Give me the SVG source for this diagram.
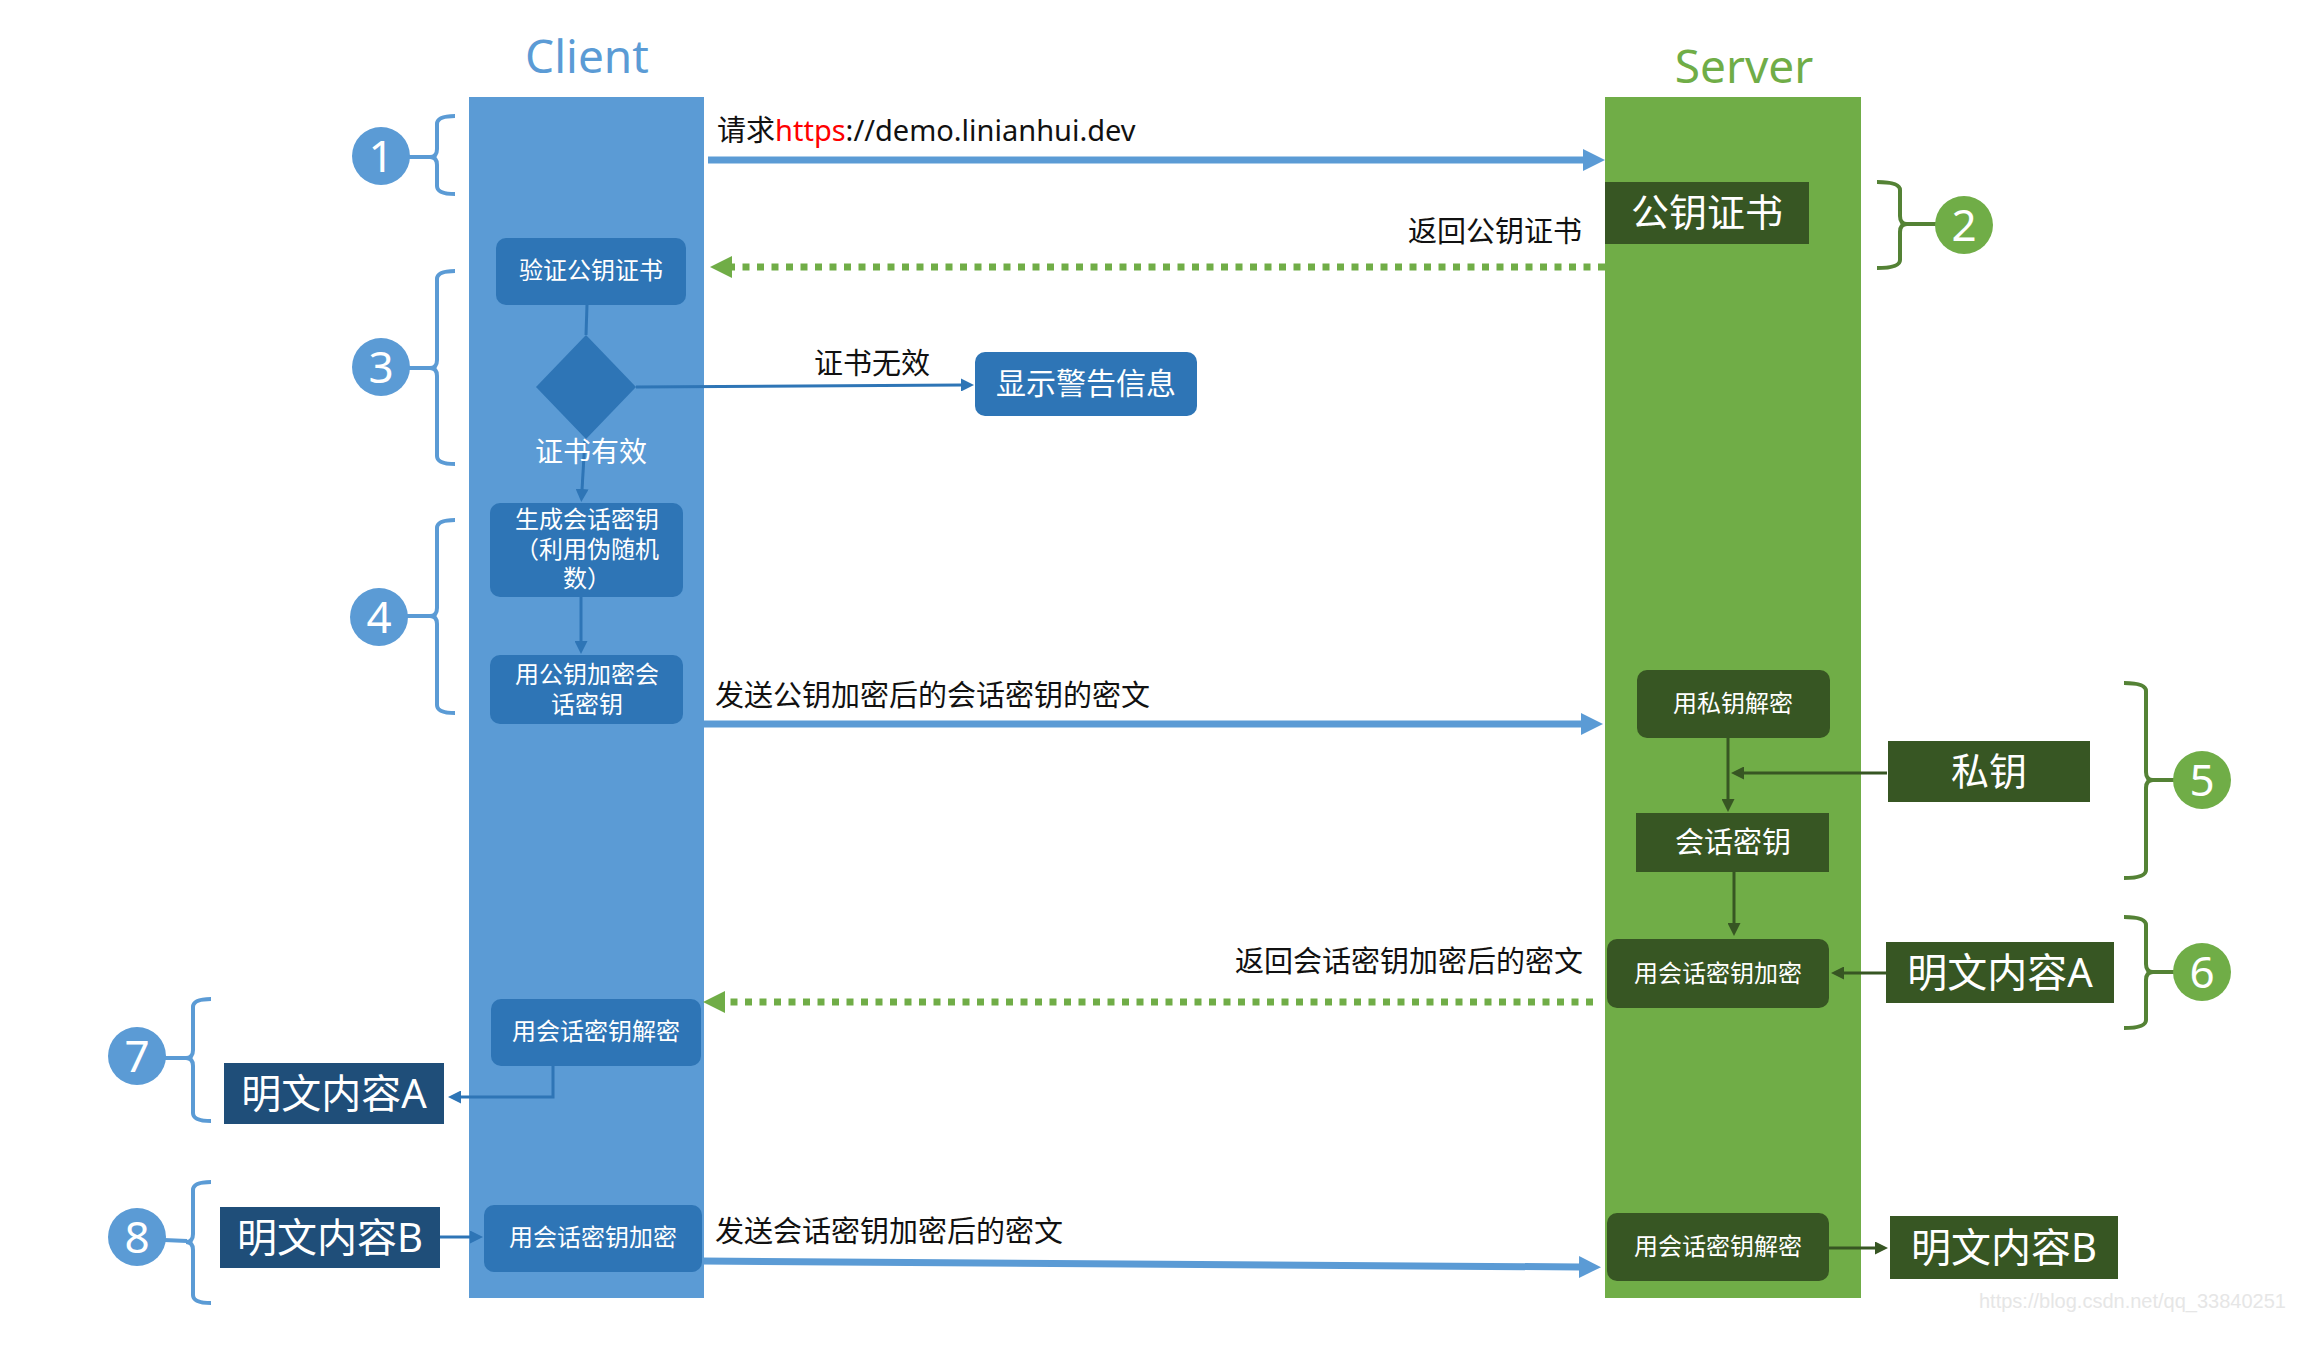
<svg xmlns="http://www.w3.org/2000/svg" width="2300" height="1354" viewBox="0 0 2300 1354">
<style>
text{font-family:"Noto Sans","Noto Sans CJK SC",sans-serif}
.lbl{font-size:29px;fill:#111}
.wt{fill:#fff;text-anchor:middle}
.s24{font-size:24px}
.big{font-size:40px}
.bbox{fill:#2E75B6}
.gbox{fill:#375623}
.dbox{fill:#1F4E79}
.num{font-size:44px;fill:#fff;text-anchor:middle}
.brB{fill:none;stroke:#5B9BD5;stroke-width:4}
.brG{fill:none;stroke:#548235;stroke-width:4}
.thickB{stroke:#5B9BD5;stroke-width:7;fill:none}
.dotG{stroke:#70AD47;stroke-width:7;stroke-dasharray:7 7.5;fill:none}
.thinB{stroke:#2E75B6;stroke-width:3;fill:none}
.thinG{stroke:#375623;stroke-width:3;fill:none}
</style>
<defs>
<marker id="aB" markerUnits="userSpaceOnUse" markerWidth="22" markerHeight="22" viewBox="0 0 22 22" refX="1" refY="11" orient="auto"><path d="M0,0 L22,11 L0,22 z" fill="#5B9BD5"/></marker>
<marker id="aG" markerUnits="userSpaceOnUse" markerWidth="22" markerHeight="22" viewBox="0 0 22 22" refX="1" refY="11" orient="auto"><path d="M0,0 L22,11 L0,22 z" fill="#70AD47"/></marker>
<marker id="sB" markerUnits="userSpaceOnUse" markerWidth="13" markerHeight="13" viewBox="0 0 13 13" refX="1" refY="6.5" orient="auto"><path d="M0,0 L13,6.5 L0,13 z" fill="#2E75B6"/></marker>
<marker id="sG" markerUnits="userSpaceOnUse" markerWidth="13" markerHeight="13" viewBox="0 0 13 13" refX="1" refY="6.5" orient="auto"><path d="M0,0 L13,6.5 L0,13 z" fill="#375623"/></marker>
</defs>
<rect width="2300" height="1354" fill="#fff"/>

<g id="client-lane">
<rect x="469" y="97" width="235" height="1201" fill="#5B9BD5"/>
<text x="587" y="73" font-size="46" fill="#5B9BD5" text-anchor="middle">Client</text>
</g>
<g id="server-lane">
<rect x="1605" y="97" width="256" height="1201" fill="#70AD47"/>
<text x="1744" y="83" font-size="46" fill="#70AD47" text-anchor="middle">Server</text>
</g>

<g id="connectors">
<line class="thickB" x1="708" y1="160" x2="1584" y2="160" marker-end="url(#aB)"/>
<line class="dotG" x1="1605" y1="267" x2="731" y2="267" marker-end="url(#aG)"/>
<line class="thinB" x1="587" y1="305" x2="586" y2="335"/>
<line class="thinB" x1="636" y1="387" x2="962" y2="385" marker-end="url(#sB)"/>
<line class="thinB" x1="585" y1="439" x2="582" y2="490" marker-end="url(#sB)"/>
<line class="thinB" x1="581" y1="597" x2="581" y2="642" marker-end="url(#sB)"/>
<line class="thickB" x1="704" y1="724" x2="1582" y2="724" marker-end="url(#aB)"/>
<line class="thinG" x1="1728" y1="738" x2="1728" y2="800" marker-end="url(#sG)"/>
<line class="thinG" x1="1887" y1="773" x2="1743" y2="773" marker-end="url(#sG)"/>
<line class="thinG" x1="1734" y1="872" x2="1734" y2="924" marker-end="url(#sG)"/>
<line class="thinG" x1="1886" y1="973" x2="1843" y2="973" marker-end="url(#sG)"/>
<line class="dotG" x1="1593" y1="1002" x2="724" y2="1002" marker-end="url(#aG)"/>
<polyline class="thinB" stroke-width="4" points="553,1066 553,1097 460,1097" marker-end="url(#sB)"/>
<line class="thinB" x1="440" y1="1237" x2="471" y2="1237" marker-end="url(#sB)"/>
<line class="thickB" x1="702" y1="1261" x2="1580" y2="1267" marker-end="url(#aB)"/>
<line class="thinG" x1="1829" y1="1248" x2="1876" y2="1248" marker-end="url(#sG)"/>
</g>

<g id="labels">
<text class="lbl" x="717" y="141">请求<tspan fill="#FF0000">https</tspan>://demo.linianhui.dev</text>
<text class="lbl" x="1582" y="242" text-anchor="end">返回公钥证书</text>
<text class="lbl" x="814" y="374" font-size="28">证书无效</text>
<text class="lbl" x="715" y="706">发送公钥加密后的会话密钥的密文</text>
<text class="lbl" x="1583" y="972" text-anchor="end">返回会话密钥加密后的密文</text>
<text class="lbl" x="715" y="1242">发送会话密钥加密后的密文</text>
</g>

<g id="verify-cert">
<rect class="bbox" x="496" y="238" width="190" height="67" rx="10"/>
<text class="wt s24" x="591" y="279">验证公钥证书</text>
</g>
<g id="cert-check">
<polygon class="bbox" points="586,335 636,387 586,439 536,387"/>
<text class="wt" x="591" y="462" font-size="28">证书有效</text>
</g>
<g id="show-warning">
<rect class="bbox" x="975" y="352" width="222" height="64" rx="10"/>
<text class="wt" x="1086" y="394" font-size="30">显示警告信息</text>
</g>
<g id="gen-session-key">
<rect class="bbox" x="490" y="503" width="193" height="94" rx="10"/>
<text class="wt s24" x="587" y="528">生成会话密钥<tspan x="587" dy="30">（利用伪随机</tspan><tspan x="587" dy="29">数）</tspan></text>
</g>
<g id="encrypt-session-key">
<rect class="bbox" x="490" y="655" width="193" height="69" rx="10"/>
<text class="wt s24" x="587" y="683">用公钥加密会<tspan x="587" dy="30">话密钥</tspan></text>
</g>
<g id="client-decrypt">
<rect class="bbox" x="491" y="999" width="210" height="67" rx="10"/>
<text class="wt s24" x="596" y="1040">用会话密钥解密</text>
</g>
<g id="client-plain-a">
<rect class="dbox" x="224" y="1063" width="220" height="61"/>
<text class="wt big" x="334" y="1108">明文内容A</text>
</g>
<g id="client-plain-b">
<rect class="dbox" x="220" y="1207" width="220" height="61"/>
<text class="wt big" x="330" y="1252">明文内容B</text>
</g>
<g id="client-encrypt">
<rect class="bbox" x="484" y="1205" width="218" height="67" rx="10"/>
<text class="wt s24" x="593" y="1246">用会话密钥加密</text>
</g>

<g id="server-cert">
<rect class="gbox" x="1605" y="182" width="204" height="62"/>
<text class="wt" x="1707" y="226" font-size="38">公钥证书</text>
</g>
<g id="server-private-decrypt">
<rect class="gbox" x="1637" y="670" width="193" height="68" rx="10"/>
<text class="wt s24" x="1733" y="712">用私钥解密</text>
</g>
<g id="private-key">
<rect class="gbox" x="1888" y="741" width="202" height="61"/>
<text class="wt" x="1989" y="785" font-size="38">私钥</text>
</g>
<g id="session-key">
<rect class="gbox" x="1636" y="813" width="193" height="59"/>
<text class="wt" x="1733" y="853" font-size="29">会话密钥</text>
</g>
<g id="server-encrypt">
<rect class="gbox" x="1607" y="939" width="222" height="69" rx="10"/>
<text class="wt s24" x="1718" y="982">用会话密钥加密</text>
</g>
<g id="server-plain-a">
<rect class="gbox" x="1886" y="942" width="228" height="61"/>
<text class="wt big" x="2000" y="987">明文内容A</text>
</g>
<g id="server-decrypt">
<rect class="gbox" x="1607" y="1213" width="222" height="68" rx="10"/>
<text class="wt s24" x="1718" y="1255">用会话密钥解密</text>
</g>
<g id="server-plain-b">
<rect class="gbox" x="1890" y="1216" width="228" height="63"/>
<text class="wt big" x="2004" y="1262">明文内容B</text>
</g>

<g id="step1">
<path class="brB" d="M455,116 Q437,116 437,124 L437,149 Q437,157 430,157 Q437,157 437,165 L437,186 Q437,194 455,194"/>
<line class="brB" x1="408" y1="157" x2="431" y2="157"/>
<circle cx="381" cy="156" r="29" fill="#5B9BD5"/>
<text class="num" x="381" y="172">1</text>
</g>
<g id="step2">
<path class="brG" d="M1877,182 Q1900,182 1900,190 L1900,216 Q1900,224 1907,224 Q1900,224 1900,232 L1900,260 Q1900,268 1877,268"/>
<line class="brG" x1="1906" y1="224" x2="1937" y2="224"/>
<circle cx="1964" cy="225" r="29" fill="#70AD47"/>
<text class="num" x="1964" y="241">2</text>
</g>
<g id="step3">
<path class="brB" d="M455,271 Q437,271 437,279 L437,360 Q437,368 430,368 Q437,368 437,376 L437,456 Q437,464 455,464"/>
<line class="brB" x1="408" y1="368" x2="431" y2="368"/>
<circle cx="381" cy="367" r="29" fill="#5B9BD5"/>
<text class="num" x="381" y="383">3</text>
</g>
<g id="step4">
<path class="brB" d="M455,520 Q437,520 437,528 L437,608 Q437,616 430,616 Q437,616 437,624 L437,705 Q437,713 455,713"/>
<line class="brB" x1="406" y1="616" x2="431" y2="616"/>
<circle cx="379" cy="617" r="29" fill="#5B9BD5"/>
<text class="num" x="379" y="633">4</text>
</g>
<g id="step5">
<path class="brG" d="M2124,683 Q2146,683 2146,691 L2146,772 Q2146,780 2153,780 Q2146,780 2146,788 L2146,870 Q2146,878 2124,878"/>
<line class="brG" x1="2152" y1="780" x2="2175" y2="780"/>
<circle cx="2202" cy="780" r="29" fill="#70AD47"/>
<text class="num" x="2202" y="796">5</text>
</g>
<g id="step6">
<path class="brG" d="M2124,917 Q2146,917 2146,925 L2146,964 Q2146,972 2153,972 Q2146,972 2146,980 L2146,1020 Q2146,1028 2124,1028"/>
<line class="brG" x1="2152" y1="972" x2="2175" y2="972"/>
<circle cx="2202" cy="972" r="29" fill="#70AD47"/>
<text class="num" x="2202" y="988">6</text>
</g>
<g id="step7">
<path class="brB" d="M211,999 Q193,999 193,1007 L193,1050 Q193,1058 186,1058 Q193,1058 193,1066 L193,1113 Q193,1121 211,1121"/>
<line class="brB" x1="164" y1="1058" x2="187" y2="1058"/>
<circle cx="137" cy="1056" r="29" fill="#5B9BD5"/>
<text class="num" x="137" y="1072">7</text>
</g>
<g id="step8">
<path class="brB" d="M211,1182 Q193,1182 193,1190 L193,1234 Q193,1242 186,1242 Q193,1242 193,1250 L193,1295 Q193,1303 211,1303"/>
<line class="brB" x1="164" y1="1240" x2="187" y2="1241"/>
<circle cx="137" cy="1237" r="29" fill="#5B9BD5"/>
<text class="num" x="137" y="1253">8</text>
</g>

<text x="1979" y="1308" font-size="20" fill="#e6e6e6" style="font-family:'Liberation Sans',Arial,sans-serif">https://blog.csdn.net/qq_33840251</text>
</svg>
